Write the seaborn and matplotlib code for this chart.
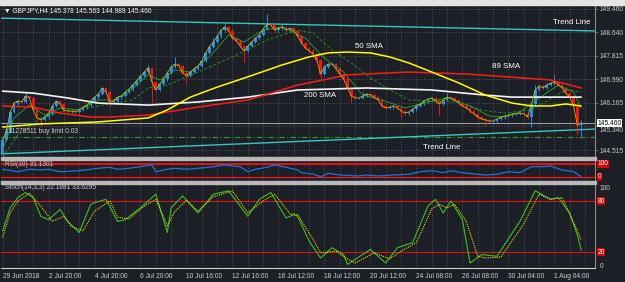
import numpy as np
import matplotlib
matplotlib.use("Agg")
import matplotlib.pyplot as plt
import matplotlib.transforms as mtrans
from matplotlib.patches import Rectangle
import seaborn as sns

sns.set_theme(style="dark")
plt.rcParams['font.family'] = ['Liberation Sans', 'DejaVu Sans']

# ---------------- data ----------------
closes = [144.87, 145.15, 145.85, 146.16, 146.23, 146.20, 146.41, 146.34, 145.92, 145.64,
          145.57, 145.67, 145.78, 146.06, 146.23, 146.13, 145.92, 145.88, 145.88, 145.85,
          145.92, 146.02, 146.09, 146.23, 146.37, 146.48, 146.69, 146.55, 146.20, 146.23,
          146.37, 146.41, 146.55, 146.65, 146.80, 146.94, 147.11, 147.25, 147.39, 146.90,
          146.62, 146.83, 147.00, 147.22, 147.43, 147.53, 147.46, 147.22, 147.11, 147.25,
          147.36, 147.46, 147.64, 147.92, 148.13, 148.30, 148.51, 148.72, 148.83, 148.69,
          148.44, 148.34, 148.16, 147.99, 148.16, 148.30, 148.44, 148.55, 148.76, 148.93,
          148.90, 148.72, 148.79, 148.83, 148.72, 148.79, 148.69, 148.51, 148.27, 148.09,
          147.99, 147.88, 147.67, 147.18, 147.43, 147.53, 147.53, 147.36, 147.18, 147.00,
          146.69, 146.41, 146.34, 146.34, 146.41, 146.48, 146.44, 146.37, 146.27, 146.06,
          145.99, 146.02, 146.06, 145.99, 145.88, 145.81, 145.85, 145.95, 146.06, 146.13,
          146.23, 146.30, 146.34, 146.23, 146.13, 146.27, 146.37, 146.34, 146.27, 146.16,
          146.06, 145.99, 145.88, 145.78, 145.67, 145.60, 145.57, 145.53, 145.53, 145.60,
          145.67, 145.71, 145.74, 145.78, 145.78, 145.81, 145.78, 145.67, 146.13, 146.62,
          146.76, 146.69, 146.80, 146.86, 146.90, 146.80, 146.69, 146.51, 146.37, 146.06,
          145.38, 145.46]
first_open = 144.40
wick_high = {6: 146.55, 38: 147.50, 45: 147.78, 55: 148.45, 58: 148.95, 69: 149.28,
             73: 148.95, 94: 146.55, 116: 146.51, 139: 146.80, 144: 147.15, 151: 145.563}
wick_low = {0: 144.27, 10: 145.32, 28: 146.05, 39: 146.09, 48: 146.86, 63: 147.60,
            83: 147.05, 91: 146.20, 104: 145.67, 114: 145.74, 126: 145.39, 128: 145.42,
            138: 145.32, 150: 145.04, 151: 144.989}

sma50_bar = [0, 10, 25, 38, 43, 49, 56, 64, 73, 80, 85, 90, 96, 101, 106, 112, 119, 126, 133, 138, 143, 147, 151]
sma50_val = [145.32, 145.43, 145.50, 145.64, 145.92, 146.37, 146.72, 147.08, 147.50, 147.78, 147.92, 147.95,
             147.92, 147.78, 147.57, 147.25, 146.87, 146.44, 146.16, 146.06, 146.06, 146.13, 146.06]
sma89_bar = [0, 8, 15, 23, 28, 38, 51, 64, 77, 90, 106, 121, 132, 143, 151]
sma89_val = [146.06, 146.02, 145.81, 145.67, 145.67, 145.74, 146.02, 146.27, 146.79, 147.15, 147.25, 147.18,
             147.08, 146.97, 146.69]
sma200_bar = [0, 8, 17, 25, 38, 51, 64, 77, 95, 112, 126, 133, 143, 151]
sma200_val = [146.58, 146.51, 146.34, 146.16, 146.09, 146.20, 146.37, 146.62, 146.69, 146.62, 146.44, 146.37,
              146.37, 146.37]
gslow_bar = [0, 4, 10, 15, 25, 34, 38, 43, 51, 60, 69, 77, 81, 86, 91, 96, 102, 106, 119, 125, 131, 138, 147, 151]
gslow_val = [144.27, 145.04, 145.64, 145.85, 146.06, 146.27, 146.69, 146.79, 147.25, 147.78, 148.37, 148.72,
             148.62, 148.02, 147.57, 147.04, 146.55, 146.27, 146.20, 145.92, 145.81, 145.92, 146.62, 146.55]
gfast_bar = [0, 3, 7, 11, 15, 20, 25, 29, 33, 38, 41, 45, 49, 54, 59, 63, 68, 73, 79, 84, 89, 94, 99, 105,
             111, 116, 122, 127, 131, 135, 140, 145, 149, 151]
gfast_val = [144.51, 145.64, 146.09, 145.74, 145.99, 145.92, 146.27, 146.27, 146.55, 147.15, 146.97, 147.32,
             147.25, 147.78, 148.55, 148.30, 148.72, 148.83, 148.44, 147.74, 147.25, 146.44, 146.27, 145.99,
             146.20, 146.34, 146.06, 145.71, 145.67, 145.85, 146.34, 146.79, 146.55, 145.99]
trend_up_bar = [-0.4, 154.6]
trend_up_val = [149.14, 148.69]
trend_dn_bar = [-0.4, 154.6]
trend_dn_val = [144.38, 145.25]
bid_price = 145.46
buy_limit_price = 144.97

rsi_bar = [0, 4, 7, 10, 12, 15, 20, 23, 25, 28, 30, 33, 36, 39, 40, 43, 45, 48, 51, 55, 58, 62, 64, 66, 69,
           71, 74, 77, 78, 81, 83, 85, 88, 93, 95, 98, 102, 106, 109, 112, 115, 117, 120, 124, 126, 129,
           132, 135, 138, 141, 143, 146, 149, 151]
rsi_val = [53.7, 46.3, 53.7, 51.5, 53.7, 46.3, 49.4, 53.7, 56.8, 59.8, 53.7, 56.8, 61.7, 66.9, 46.3, 53.7,
           56.8, 53.7, 56.8, 61.7, 66.9, 61.7, 46.3, 53.7, 59.8, 66.9, 59.8, 51.5, 43.2, 39.2, 30.9, 41.4,
           36.2, 33.1, 36.2, 33.1, 36.2, 38.3, 46.3, 49.4, 43.2, 49.4, 43.2, 38.3, 36.2, 38.3, 46.3, 43.2,
           61.7, 61.7, 64.0, 51.5, 46.3, 31.13]
rsi_levels = [70, 30]
rsi_level_labels = ["100", "0"]

k_bar = [0, 2, 4, 6, 8, 10, 12, 15, 17, 20, 23, 24, 27, 30, 32, 36, 40, 43, 44, 47, 51, 55, 59, 64, 67, 70,
         74, 76, 77, 80, 83, 86, 89, 90, 96, 100, 103, 107, 111, 113, 115, 117, 120, 122, 125, 129, 135, 139,
         143, 145, 148, 150, 151]
k_val = [44.7, 72, 84, 90, 84, 62, 58, 70, 56, 43, 76, 78, 82, 56, 58, 72, 88, 43, 72, 86, 66, 88, 92, 62,
         82, 90, 60, 64, 62, 33, 13, 25, 17, 5.5, 23, 7, 25, 31, 74, 82, 66, 80, 58, 7, 17, 15, 56, 92, 82,
         84, 66, 40, 22.19]
d_bar = [0, 2, 4, 7, 10, 13, 16, 18, 21, 24, 28, 30, 33, 37, 40, 43, 45, 48, 51, 55, 60, 64, 68, 71, 75, 77,
         81, 83, 87, 90, 92, 97, 101, 104, 108, 112, 114, 116, 118, 121, 124, 126, 130, 136, 140, 143, 146,
         150, 151]
d_val = [37, 66, 80, 89, 74, 56, 62, 50, 45, 68, 80, 61, 59, 74, 82, 51, 68, 81, 68, 85, 92, 66, 80, 88, 65,
         64, 35, 19, 21, 12, 7, 19, 12, 21, 31, 71, 76, 72, 76, 56, 15, 13, 14, 53, 88, 82, 84, 45, 33.63]
stoch_levels = [80, 20]

price_ticks = [149.460, 148.640, 147.815, 146.990, 146.165, 145.340, 144.515]
time_tick_bars = [0, 12, 24, 36, 48, 60, 72, 84, 96, 108, 120, 132, 144]
time_tick_labels = ["29 Jun 2018", "2 Jul 20:00", "4 Jul 20:00", "6 Jul 20:00", "10 Jul 16:00",
                    "12 Jul 16:00", "16 Jul 12:00", "18 Jul 12:00", "20 Jul 12:00", "24 Jul 08:00",
                    "26 Jul 08:00", "30 Jul 04:00", "1 Aug 04:00"]
header = "▼ GBPJPY,H4 145.378 145.563 144.989 145.460"

# ---------------- style ----------------
BG = '#1c1f26'
GRID = '#5a5f68'
TXT = '#cfcfcf'
BULL = '#2391ea'
BEAR = '#ff1010'
FS = 4.8

W, H = 625, 282
fig = plt.figure(figsize=(W / 100, H / 100), dpi=100, facecolor=BG)


def rect(x0, y0, x1, y1):
    return [x0 / W, 1 - y1 / H, (x1 - x0) / W, (y1 - y0) / H]


ax = fig.add_axes(rect(1, 5, 595, 157))
axr = fig.add_axes(rect(1, 159.5, 595, 181))
axs = fig.add_axes(rect(1, 183.5, 595, 268))

XL = (-0.4, 154.6)
vgrid = np.arange(0, 155, 4)
for a in (ax, axr, axs):
    a.set_facecolor(BG)
    a.set_xlim(*XL)
    a.set_xticks(vgrid)
    a.grid(False)
    a.grid(axis='x', color=GRID, linestyle=(0, (1, 2)), linewidth=0.6)
    for s in a.spines.values():
        s.set_visible(False)
    a.spines['right'].set_visible(True)
    a.spines['right'].set_color('#8a8a8a')
    a.spines['right'].set_linewidth(0.8)
    a.tick_params(axis='x', length=0, labelbottom=False)

# ---------------- main price panel ----------------
ax.set_ylim(144.27, 149.60)
ax.yaxis.tick_right()
ax.set_yticks(price_ticks)
ax.set_yticklabels([f"{t:.3f}" for t in price_ticks])
ax.tick_params(axis='y', length=2, width=0.5, color='#8a8a8a', pad=1.5, labelsize=FS, labelcolor=TXT)
ax.grid(axis='y', color=GRID, linestyle=(0, (1, 2)), linewidth=0.6)

bars = np.arange(len(closes))
opens = [first_open] + closes[:-1]
for i, (o, c) in enumerate(zip(opens, closes)):
    col = BULL if c >= o else BEAR
    lo_b, hi_b = min(o, c), max(o, c)
    hi = wick_high.get(i, hi_b + 0.05)
    lo = wick_low.get(i, lo_b - 0.05)
    ax.vlines(i, lo, hi, color=col, linewidth=0.7, zorder=3)
    ax.bar(i, max(hi_b - lo_b, 0.015), bottom=lo_b, width=0.72, color=col, linewidth=0, zorder=3)

# horizontal order/bid lines
ax.axhline(bid_price, color='#9a9a9a', linewidth=0.8, zorder=2)
ax.axhline(buy_limit_price, color='#2ea02e', linewidth=0.8, linestyle=(0, (5, 2, 1, 2)), zorder=2)

# indicator lines
sns.lineplot(x=trend_up_bar, y=trend_up_val, ax=ax, color='#38c6bf', linewidth=1.0, legend=False, zorder=2)
sns.lineplot(x=trend_dn_bar, y=trend_dn_val, ax=ax, color='#38c6bf', linewidth=1.0, legend=False, zorder=2)
sns.lineplot(x=gslow_bar, y=gslow_val, ax=ax, color='#1f8f1f', linewidth=0.7, linestyle=(0, (3, 2)),
             legend=False, zorder=4)
sns.lineplot(x=gfast_bar, y=gfast_val, ax=ax, color='#2aa52a', linewidth=0.6, legend=False, zorder=4)
sns.lineplot(x=sma200_bar, y=sma200_val, ax=ax, color='#f4f4f4', linewidth=1.2, legend=False, zorder=4)
sns.lineplot(x=sma89_bar, y=sma89_val, ax=ax, color='#ff1a1a', linewidth=1.1, legend=False, zorder=4)
sns.lineplot(x=sma50_bar, y=sma50_val, ax=ax, color='#ffff00', linewidth=1.1, legend=False, zorder=4)
sns.lineplot(x=bars, y=closes, ax=ax, color='#cdb800', linewidth=0.55, legend=False, zorder=5)
ax.set_xlim(*XL)
ax.set_ylim(144.27, 149.60)
ax.set_xlabel('')
ax.set_ylabel('')

# nudge the 145.340 label just below the bid box
for lbl, t in zip(ax.get_yticklabels(), price_ticks):
    if abs(t - 145.340) < 1e-6:
        lbl.set_transform(lbl.get_transform() + mtrans.ScaledTranslation(0, -3 / 100, fig.dpi_scale_trans))

# text labels on chart
ax.text(95.6, 148.16, "50 SMA", color='white', fontsize=5.7, ha='center', va='center', zorder=6)
ax.text(131.4, 147.43, "89 SMA", color='white', fontsize=5.7, ha='center', va='center', zorder=6)
ax.text(82.8, 146.41, "200 SMA", color='white', fontsize=5.7, ha='center', va='center', zorder=6)
ax.text(148.6, 149.00, "Trend Line", color='white', fontsize=5.7, ha='center', va='center', zorder=6)
ax.text(114.7, 144.62, "Trend Line", color='white', fontsize=5.7, ha='center', va='center', zorder=6)
ax.text(0.6, 145.17, "#11278511 buy limit 0.03", color=TXT, fontsize=FS, ha='left', va='center', zorder=6)

blend = mtrans.blended_transform_factory(ax.transAxes, ax.transData)
ax.text(1.004, bid_price, "145.460", transform=blend, ha='left', va='center', fontsize=FS, color='black',
        bbox=dict(boxstyle='square,pad=0.12', fc='white', ec='none'), zorder=10, clip_on=False)

fig.text(4 / W, 1 - 10.5 / H, header, color='white', fontsize=FS, ha='left', va='center')

# ---------------- RSI panel ----------------
axr.set_ylim(17.7, 83.8)
axr.set_yticks([])
for lv in rsi_levels:
    axr.axhline(lv, color='#ff1010', linewidth=1.3 if lv == rsi_levels[0] else 0.9, zorder=2)
sns.lineplot(x=rsi_bar, y=rsi_val, ax=axr, color='#1f74d6', linewidth=0.9, legend=False, zorder=3)
axr.set_xlim(*XL)
axr.set_ylim(17.7, 83.8)
axr.set_xlabel('')
axr.set_ylabel('')
rb = mtrans.blended_transform_factory(axr.transAxes, axr.transData)
for lv, lab in zip(rsi_levels, rsi_level_labels):
    axr.text(1.004, lv, lab, transform=rb, ha='left', va='center', fontsize=FS, color='white',
             bbox=dict(boxstyle='square,pad=0.12', fc='#d80000', ec='none'), clip_on=False)
axr.text(0.006, 0.78, "RSI(10) 31.1301", transform=axr.transAxes, color=TXT, fontsize=FS,
         ha='left', va='center')

# ---------------- Stochastic panel ----------------
axs.set_ylim(1.2, 100.6)
axs.set_yticks([])
for lv in stoch_levels:
    axs.axhline(lv, color='#e01010', linewidth=0.8, zorder=2)
sns.lineplot(x=k_bar, y=k_val, ax=axs, color='#3cbf2c', linewidth=0.8, legend=False, zorder=3)
sns.lineplot(x=d_bar, y=d_val, ax=axs, color='#e8e000', linewidth=0.8, linestyle=(0, (1, 1)),
             legend=False, zorder=3)
axs.set_xlim(*XL)
axs.set_ylim(1.2, 100.6)
axs.set_xlabel('')
axs.set_ylabel('')
sb = mtrans.blended_transform_factory(axs.transAxes, axs.transData)
for lv in stoch_levels:
    axs.text(1.004, lv, str(lv), transform=sb, ha='left', va='center', fontsize=FS, color='white',
             bbox=dict(boxstyle='square,pad=0.12', fc='#d80000', ec='none'), clip_on=False)
axs.text(1.008, 94.5, "100", transform=sb, ha='left', va='center', fontsize=FS, color=TXT, clip_on=False)
axs.text(1.008, 3.0, "0", transform=sb, ha='left', va='center', fontsize=FS, color=TXT, clip_on=False)
axs.text(0.006, 0.95, "Stoch(14,3,3) 22.1881 33.6295", transform=axs.transAxes, color=TXT, fontsize=FS,
         ha='left', va='center')

lab_map = dict(zip(time_tick_bars, time_tick_labels))
axs.set_xticklabels([lab_map.get(int(b), '') for b in vgrid])
axs.tick_params(axis='x', length=0, pad=3.5, labelbottom=True, labelsize=FS, labelcolor=TXT)
for t in axs.get_xticklabels():
    t.set_ha('left')
axs.spines['bottom'].set_visible(True)
axs.spines['bottom'].set_color('#d0d0d0')
axs.spines['bottom'].set_linestyle((0, (1, 1)))
axs.spines['bottom'].set_linewidth(0.8)

# ---------------- frame pieces ----------------
for (x0, y0, x1, y1, col) in [(0, 0, 625, 4.5, '#e4e4e4'),
                              (1, 157, 596, 159.5, '#b8b8b8'),
                              (1, 181, 596, 183.5, '#b8b8b8')]:
    fig.patches.append(Rectangle((x0 / W, 1 - y1 / H), (x1 - x0) / W, (y1 - y0) / H,
                                 transform=fig.transFigure, color=col, zorder=5))

fig.savefig("out.png", dpi=100, facecolor=BG)
